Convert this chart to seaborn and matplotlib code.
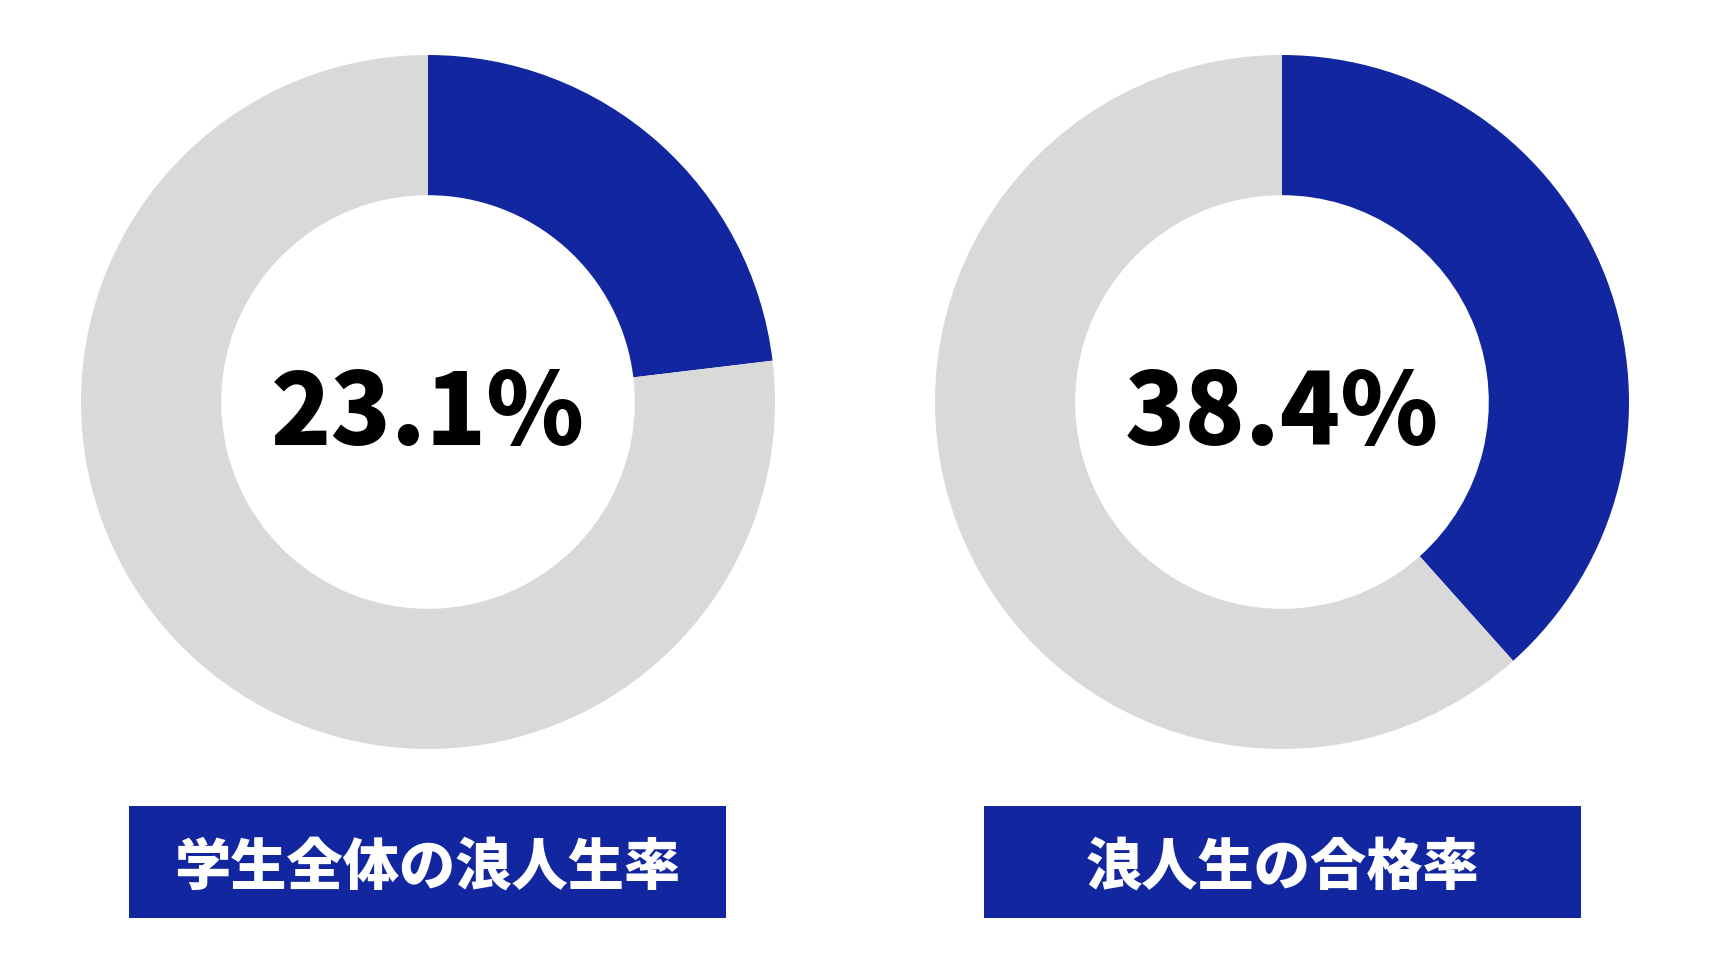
import matplotlib
matplotlib.use('Agg')
import matplotlib.pyplot as plt
import seaborn as sns

# values
titles = ['学生全体の浪人生率', '浪人生の合格率']
rates = [23.1, 38.4]

blue = '#1226A0'
grey = '#D9D9D9'

sns.set_style('white')
plt.rcParams['font.family'] = ['Noto Sans CJK JP', 'DejaVu Sans']

fig = plt.figure(figsize=(17.28, 9.72), dpi=100)
fig.patch.set_facecolor('white')

W, H = 1728, 972
R = 347
centers = [(428, 402), (1282, 402)]
boxes = [(129, 726), (984, 1581)]
box_top, box_bot = 806, 918

for (cx, cy), (bx0, bx1), rate, title in zip(centers, boxes, rates, titles):
    ax = fig.add_axes([(cx - R) / W, (H - cy - R) / H, 2 * R / W, 2 * R / H])
    ax.pie([rate, 100 - rate], colors=[blue, grey], startangle=90,
           counterclock=False, radius=1,
           wedgeprops=dict(width=0.404, linewidth=0))
    ax.set_xlim(-1, 1)
    ax.set_ylim(-1, 1)
    ax.set_aspect('equal')
    ax.axis('off')
    ax.text(0, -0.04, f'{rate}%', ha='center', va='center',
            fontsize=71.5, fontweight='black', color='black')

    # title box under the donut
    bax = fig.add_axes([bx0 / W, (H - box_bot) / H, (bx1 - bx0) / W, (box_bot - box_top) / H])
    bax.set_facecolor(blue)
    bax.set_xticks([])
    bax.set_yticks([])
    for s in bax.spines.values():
        s.set_visible(False)
    bax.text(0.5, 0.45, title, ha='center', va='center', color='white',
             fontsize=40.5, fontweight='black', transform=bax.transAxes)

fig.savefig('out.png', dpi=100, facecolor='white')
